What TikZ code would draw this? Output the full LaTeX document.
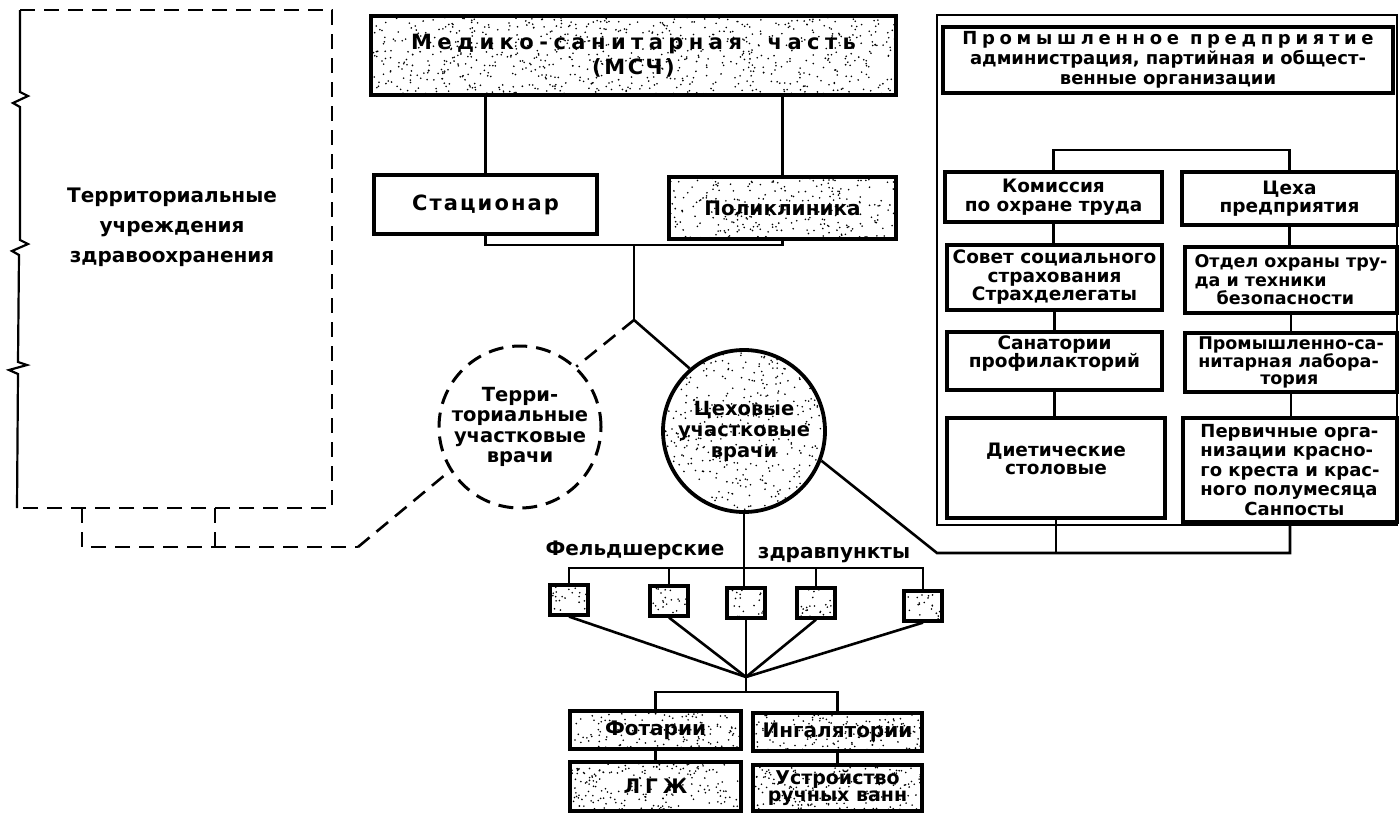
\documentclass[tikz,border=0pt]{standalone}
\usepackage{fontspec}
\setmainfont{DejaVu Sans}
\usetikzlibrary{calc}
\begin{document}
\begin{tikzpicture}[x=1pt,y=-1pt,line width=2.6pt,
  stip/.style={path picture={\foreach \k in {1,...,#1}{\fill let \p1=(path picture bounding box.south west),\p2=(path picture bounding box.north east) in ({\x1+rnd*(\x2-\x1)},{\y1+rnd*(\y2-\y1)}) circle[radius=0.9pt];}}},
  box/.style={draw,rectangle,line width=3.3pt,inner sep=0pt,align=center,font=\bfseries\fontsize{20}{22}\selectfont},
  rbox/.style={draw,rectangle,line width=3.3pt,inner sep=0pt,align=center,font=\bfseries\fontsize{18.5}{18.5}\selectfont},
  sq/.style={draw,rectangle,line width=3.2pt,inner sep=0pt,minimum width=38pt,minimum height=30pt,stip=24},
  lbl/.style={inner sep=0pt,font=\bfseries\fontsize{20}{22}\selectfont},
  dsh/.style={dash pattern=on 15pt off 9pt},
  conn/.style={line width=2.6pt}]
\pgfmathsetseed{7}
\useasboundingbox (0,0) rectangle (1399,814);

% ---------- left dashed box ----------
\node[lbl,align=center,font=\bfseries\fontsize{20}{30}\selectfont] (lbox) at (172,227) {Территориальные\\учреждения\\здравоохранения};
\draw[dsh,line width=2.6pt] (20,10) -- (332,10) -- (332,508) -- (17,508);
\draw[line width=2.2pt] (20,10) -- (20,92) -- (28,96) -- (13,103) -- (20,107)
  -- (20,240) -- (28,244) -- (12,251) -- (19,255)
  -- (18,362) -- (27,365) -- (9,370) -- (18,374) -- (17,508);
\coordinate (bl) at (358,547);
\draw[dsh,line width=2.6pt] (82,508) -- (82,547) -- (bl);
\draw[dsh,line width=2.6pt] (215,508) -- (215,547);

% ---------- top center ----------
\node[box,minimum width=525pt,minimum height=79pt,stip=800,font=\bfseries\fontsize{21}{25}\selectfont] (msch) at (633.5,55.5)
  {{\addfontfeature{LetterSpace=26}Медико-санитарная\ \ часть}\\{\addfontfeature{LetterSpace=12}(МСЧ)}};
\node[box,minimum width=223pt,minimum height=59pt,font=\bfseries\fontsize{21}{22}\selectfont] (stac) at (485.5,204.5) {\addfontfeature{LetterSpace=10}Стационар};
\node[box,minimum width=227pt,minimum height=62pt,stip=270] (polik) at (782.5,208) {Поликлиника};
\draw[conn] (stac.north |- msch.south) -- (stac.north);
\draw[conn] (polik.north |- msch.south) -- (polik.north);
\coordinate (j1) at (634,245);
\coordinate (sp) at (634,320);
\draw[conn] (stac.south) |- (j1) -| (polik.south);
\draw[conn] (j1) -- (sp);

% ---------- circles ----------
\node[circle,draw,dsh,line width=3pt,minimum size=162pt,inner sep=0pt,align=center,font=\bfseries\fontsize{19.5}{20.5}\selectfont] (tc) at (520,427) {Терри-\\ториальные\\участковые\\врачи};
\node[circle,draw,line width=3.8pt,minimum size=162pt,inner sep=0pt,align=center,stip=400,font=\bfseries\fontsize{19.5}{21}\selectfont] (cc) at (744,431) {Цеховые\\участковые\\врачи};
\draw[conn,dsh] (sp) -- (tc.47);
\draw[conn] (sp) -- (cc.131);
\draw[conn,dsh] (bl) -- (tc.212);

% ---------- feldsher points ----------
\node[lbl] (feld) at (635,550) {Фельдшерские};
\node[lbl] (zdrav) at (834,555) {здравпункты};
\node[sq] (s1) at (569,600) {};
\node[sq] (s2) at (669,601) {};
\node[sq] (s3) at (746,603) {};
\node[sq] (s4) at (816,603) {};
\node[sq] (s5) at (923,606) {};
\coordinate (bus) at (746,568);
\draw[conn] (s1.north) |- (bus) -| (s5.north);
\draw[conn] (s2.north) -- (s2.north |- bus);
\draw[conn] (s4.north) -- (s4.north |- bus);
\draw[conn] (cc.south) -- (cc.south |- s3.north);
\coordinate (fan) at (746,677);
\foreach \s in {s1,s2,s3,s4,s5} \draw[conn] (\s.south) -- (fan);
\coordinate (bj) at (746,692);
\node[box,minimum width=171pt,minimum height=38pt,stip=150] (fot) at (655.5,730) {Фотарии};
\node[box,minimum width=169pt,minimum height=38pt,stip=150] (ing) at (837.5,732) {Ингалятории};
\node[box,minimum width=171pt,minimum height=49pt,stip=190] (lgzh) at (655.5,786.5) {\addfontfeature{LetterSpace=25}ЛГЖ};
\node[box,minimum width=169pt,minimum height=46pt,stip=180,font=\bfseries\fontsize{19}{17}\selectfont] (ustr) at (837.5,788) {Устройство\\ручных ванн};
\draw[conn] (fan) -- (bj);
\draw[conn] (fot.north) |- (bj) -| (ing.north);
\draw[conn] (fot.south) -- (lgzh.north);
\draw[conn] (ing.south) -- (ustr.north);

% ---------- right block ----------
\node[draw,rectangle,line width=1.8pt,minimum width=460pt,minimum height=510pt,inner sep=0pt] (obox) at (1167,270) {};
\node[rbox,minimum width=450pt,minimum height=66pt,font=\bfseries\fontsize{18}{20}\selectfont] (prom) at (1168,60)
  {{\addfontfeature{LetterSpace=26}Промышленное предприятие}\\администрация, партийная и общест-\\венные организации};
\node[rbox,minimum width=217pt,minimum height=50pt] (kom) at (1053.5,197) {Комиссия\\по охране труда};
\node[rbox,minimum width=215pt,minimum height=53pt] (tse) at (1289.5,198.5) {Цеха\\предприятия};
\node[rbox,minimum width=215pt,minimum height=65pt] (sov) at (1054.5,277.5) {Совет социального\\страхования\\Страхделегаты};
\node[rbox,minimum width=212pt,minimum height=66pt,align=left,font=\bfseries\fontsize{17.5}{18.5}\selectfont] (otd) at (1291,280) {Отдел охраны тру-\\да и техники\\\hspace*{22pt}безопасности};
\node[rbox,minimum width=215pt,minimum height=58pt] (san) at (1054.5,361) {Санатории\\профилакторий\\\mbox{}};
\node[rbox,minimum width=212pt,minimum height=59pt,align=left,font=\bfseries\fontsize{17.5}{17}\selectfont] (pro) at (1291,362.5) {Промышленно-са-\\нитарная лабора-\\\hspace*{62pt}тория};
\node[rbox,minimum width=218pt,minimum height=100pt] (die) at (1056,468) {Диетические\\столовые\\\mbox{}};
\node[rbox,minimum width=214pt,minimum height=104pt,align=left,font=\bfseries\fontsize{18}{19.5}\selectfont] (per) at (1290,470) {Первичные орга-\\низации красно-\\го креста и крас-\\ного полумесяца\\\hspace*{44pt}Санпосты};
\coordinate (rtop) at (1173,150);
\draw[conn] (kom.north) |- (rtop) -| (tse.north);
\draw[conn] (kom.south) -- (kom.south |- sov.north);
\draw[conn] (sov.south) -- (sov.south |- san.north);
\draw[conn] (san.south) -- (san.south |- die.north);
\draw[conn] (tse.south) -- (tse.south |- otd.north);
\draw[conn] (otd.south) -- (otd.south |- pro.north);
\draw[conn] (pro.south) -- (pro.south |- per.north);
\coordinate (rk) at (937,553);
\draw[conn] (cc.-21) -- (rk) -| (per.south);
\draw[conn] (die.south) -- (die.south |- rk);
\end{tikzpicture}
\end{document}
